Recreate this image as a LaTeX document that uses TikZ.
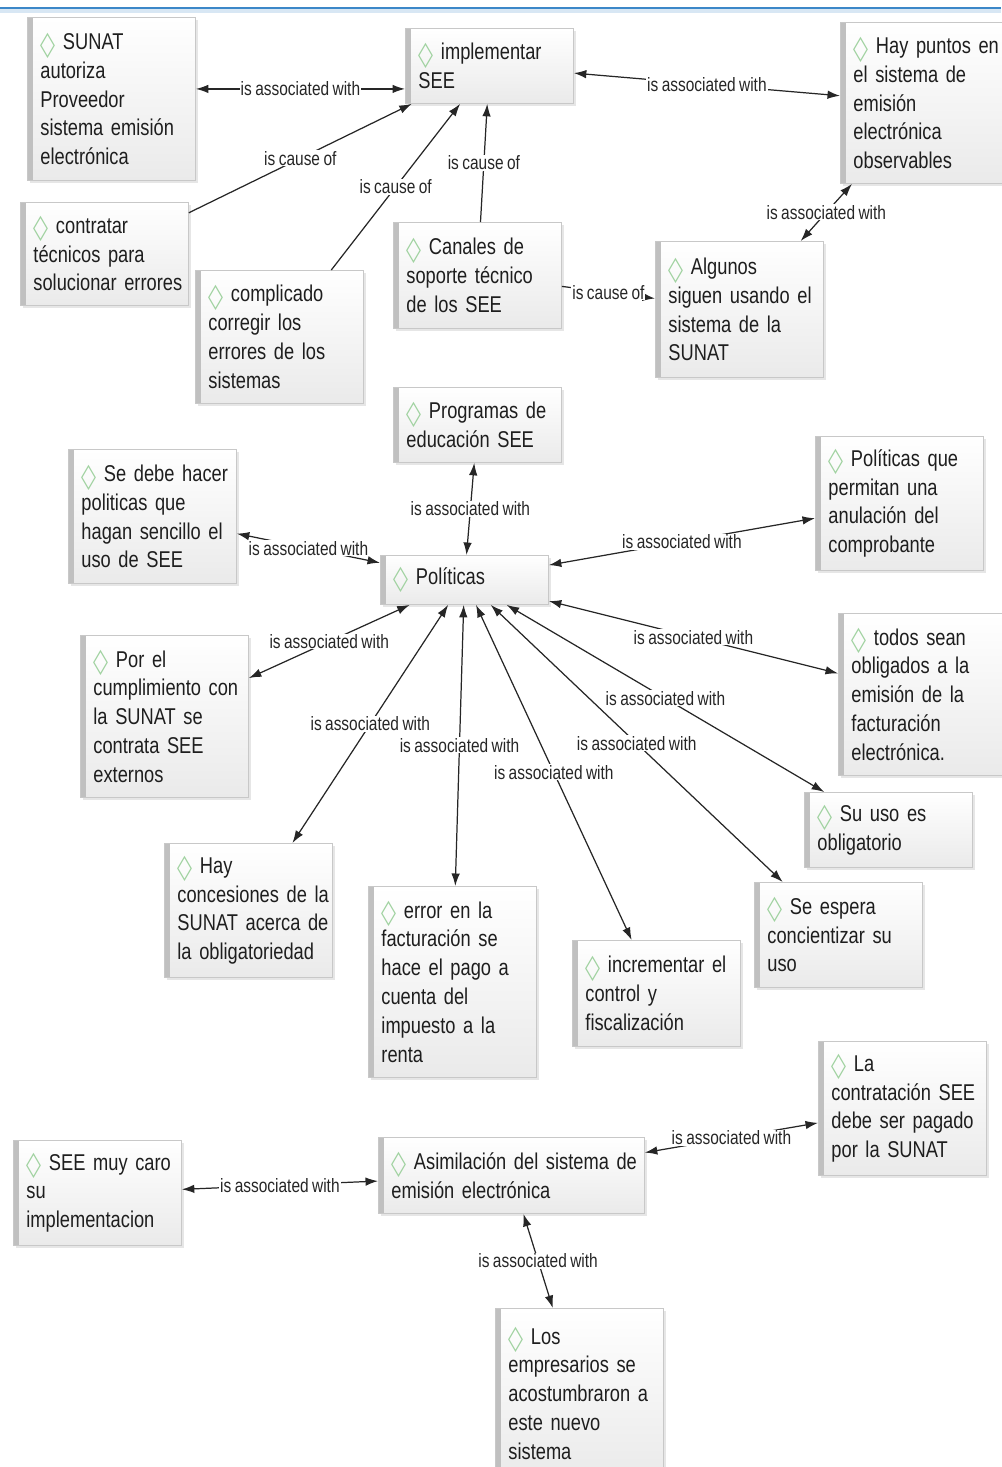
\documentclass[tikz,border=0pt]{standalone}
\usepackage{fontspec}
\setmainfont{Liberation Sans}[FakeStretch=0.8, WordSpace=0.8]
\newfontfamily\dmdfont{DejaVu Sans}
\usepackage{graphicx}
\usetikzlibrary{arrows.meta}
\usetikzlibrary{shadows}
\definecolor{txtgray}{RGB}{30,30,30}
\definecolor{boxline}{RGB}{200,200,200}
\definecolor{boxbar}{RGB}{192,192,192}
\definecolor{boxfill}{RGB}{234,234,234}
\definecolor{dmdgreen}{RGB}{160,210,160}
\definecolor{topblue}{RGB}{60,135,200}
\newcommand{\dmd}{{\dmdfont\textcolor{dmdgreen}{\raisebox{-0.2em}{\scalebox{0.85}[1.45]{◇}}}}\ }
\tikzset{concept/.style={draw=boxline, line width=0.5pt, top color=white, bottom color=boxfill,
    anchor=north west, align=left, text width=3.22cm, inner xsep=0.07cm, inner ysep=0pt,
    execute at begin node={\leftskip=0.19cm\hyphenpenalty=10000},
    text=txtgray, font=\fontsize{13}{16.4}\selectfont,
    drop shadow={shadow xshift=0.05cm, shadow yshift=-0.06cm, opacity=0.2},
    path picture={\fill[boxbar] (path picture bounding box.north west) rectangle ([xshift=0.12cm]path picture bounding box.south west);}}}
\tikzset{lbl/.style={fill=white, inner sep=0.5pt, text=black!85, font=\fontsize{11}{13}\selectfont}}

\begin{document}
\begin{tikzpicture}[x=0.02cm, y=-0.02cm]
\tikzstyle{cause} = [draw=black!85, line width=0.7pt, -{Latex[length=0.25cm,width=0.17cm]}]
\tikzstyle{assoc} = [draw=black!85, line width=0.7pt, {Latex[length=0.25cm,width=0.17cm]}-{Latex[length=0.25cm,width=0.17cm]}]
\useasboundingbox (0,0) rectangle (1001,1467);
\fill[topblue!20] (0,8) rectangle (1001,13);
\draw[topblue, line width=0.05cm] (0,8) -- (1001,8);

% upper group
\node[concept, minimum height=3.26cm] (sunat) at (27,17) {\dmd SUNAT\\autoriza\\Proveedor\\sistema emisión\\electrónica};
\node[concept, minimum height=1.5cm] (impl) at (405,28) {\dmd implementar\\SEE};
\node[concept, minimum height=3.22cm] (puntos) at (840,22) {\dmd Hay puntos en\\el sistema de\\emisión\\electrónica\\observables};
\node[concept, minimum height=2.06cm] (tecnicos) at (20,202) {\dmd contratar\\técnicos para\\solucionar errores};
\node[concept, minimum height=2.66cm] (corregir) at (195,270) {\dmd complicado\\corregir los\\errores de los\\sistemas};
\node[concept, minimum height=2.12cm] (canales) at (393,222) {\dmd Canales de\\soporte técnico\\de los SEE};
\node[concept, minimum height=2.72cm] (algunos) at (655,241) {\dmd Algunos\\siguen usando el\\sistema de la\\SUNAT};

\draw[assoc] ([yshift=0.2cm]sunat.east) -- ([yshift=0.2cm]sunat.east -| impl.west) node[lbl, midway] {is associated with};
\draw[cause] (tecnicos) -- (impl) node[lbl, midway] {is cause of};
\draw[cause] (corregir) -- (impl) node[lbl, midway] {is cause of};
\draw[cause] (canales) -- (impl) node[lbl, midway] {is cause of};
\draw[assoc] (impl) -- (puntos) node[lbl, midway] {is associated with};
\draw[assoc] (algunos) -- (puntos) node[lbl, midway] {is associated with};
\draw[cause] (canales) -- (algunos) node[lbl, midway] {is cause of};

% politicas group
\node[concept, minimum height=1.5cm] (educacion) at (393,387) {\dmd Programas de\\educación SEE};
\node[concept, minimum height=2.68cm] (sencillo) at (68,449) {\dmd Se debe hacer\\politicas que\\hagan sencillo el\\uso de SEE};
\node[concept, minimum height=0.98cm] (pol) at (380,555) {\dmd Políticas};
\node[concept, minimum height=2.68cm] (anulacion) at (815,436) {\dmd Políticas que\\permitan una\\anulación del\\comprobante};
\node[concept, minimum height=3.24cm] (cumplir) at (80,635) {\dmd Por el\\cumplimiento con\\la SUNAT se\\contrata SEE\\externos};
\node[concept, minimum height=3.24cm] (todos) at (838,613) {\dmd todos sean\\obligados a la\\emisión de la\\facturación\\electrónica.};
\node[concept, minimum height=1.5cm] (uso) at (804,792) {\dmd Su uso es\\obligatorio};
\node[concept, minimum height=2.68cm] (concesion) at (164,843) {\dmd Hay\\concesiones de la\\SUNAT acerca de\\la obligatoriedad};
\node[concept, minimum height=3.82cm] (error) at (368,886) {\dmd error en la\\facturación se\\hace el pago a\\cuenta del\\impuesto a la\\renta};
\node[concept, minimum height=2.12cm] (control) at (572,940) {\dmd incrementar el\\control y\\fiscalización};
\node[concept, minimum height=2.1cm] (espera) at (754,882) {\dmd Se espera\\concientizar su\\uso};

\draw[assoc] (pol) -- (educacion) node[lbl, midway] {is associated with};
\draw[assoc] (pol) -- (sencillo) node[lbl, midway] {is associated with};
\draw[assoc] (pol) -- (anulacion) node[lbl, midway] {is associated with};
\draw[assoc] (pol) -- (todos) node[lbl, midway] {is associated with};
\draw[assoc] (pol) -- (cumplir) node[lbl, midway] {is associated with};
\draw[assoc] (pol) -- (concesion) node[lbl, midway] {is associated with};
\draw[assoc] (pol) -- (error) node[lbl, midway] {is associated with};
\draw[assoc] (pol) -- (control) node[lbl, midway] {is associated with};
\draw[assoc] (pol) -- (espera) node[lbl, midway] {is associated with};
\draw[assoc] (pol) -- (uso) node[lbl, midway] {is associated with};

% asimilacion group
\node[concept, minimum height=2.68cm] (pagado) at (818,1041) {\dmd La\\contratación SEE\\debe ser pagado\\por la SUNAT};
\node[concept, minimum height=1.52cm, text width=5.18cm] (asim) at (378,1137) {\dmd Asimilación del sistema de\\emisión electrónica};
\node[concept, minimum height=2.1cm] (caro) at (13,1140) {\dmd SEE muy caro\\su\\implementacion};
\node[concept, minimum height=3.4cm] (empresarios) at (495,1308) {\dmd Los\\empresarios se\\acostumbraron a\\este nuevo\\sistema};

\draw[assoc] (asim) -- (caro) node[lbl, midway] {is associated with};
\draw[assoc] (asim) -- (pagado) node[lbl, midway] {is associated with};
\draw[assoc] (asim) -- (empresarios) node[lbl, midway] {is associated with};
\end{tikzpicture}
\end{document}
